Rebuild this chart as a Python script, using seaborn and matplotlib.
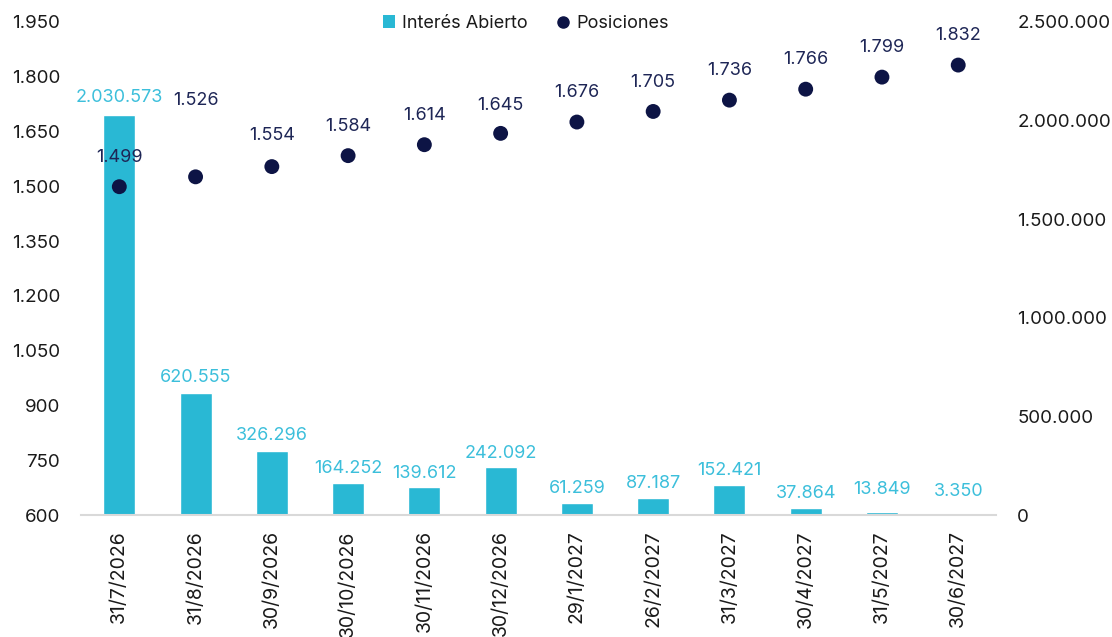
import matplotlib
matplotlib.use("Agg")
import matplotlib.pyplot as plt
from matplotlib.lines import Line2D
from matplotlib.patches import Patch
import seaborn as sns
import pandas as pd

fechas = ["31/7/2026", "31/8/2026", "30/9/2026", "30/10/2026", "30/11/2026", "30/12/2026",
          "29/1/2027", "26/2/2027", "31/3/2027", "30/4/2027", "31/5/2027", "30/6/2027"]
interes_abierto = [2030573, 620555, 326296, 164252, 139612, 242092,
                   61259, 87187, 152421, 37864, 13849, 3350]
posiciones = [1499, 1526, 1554, 1584, 1614, 1645, 1676, 1705, 1736, 1766, 1799, 1832]
left_ticks = [600, 750, 900, 1050, 1200, 1350, 1500, 1650, 1800, 1950]
right_ticks = [0, 500000, 1000000, 1500000, 2000000, 2500000]

BAR = "#29B8D4"
BARLBL = "#3CBFDB"
DOT = "#0D1445"
DOTLBL = "#1E2656"
TXT = "#1A1A1A"

def fmt(v):
    return f"{v:,.0f}".replace(",", ".")

sns.set_theme(style="white")
plt.rcParams["font.family"] = ["Inter", "DejaVu Sans"]

df = pd.DataFrame({"fecha": fechas, "oi": interes_abierto, "pos": posiciones})

fig = plt.figure(figsize=(11.12, 6.37), dpi=100)
ax_bar = fig.add_axes([0.073, 0.1915, 0.823, 0.774])
ax_dot = ax_bar.twinx()

sns.barplot(data=df, x="fecha", y="oi", ax=ax_bar, color=BAR, width=0.42,
            saturation=1, order=fechas)
ax_bar.set_ylim(0, 2500000)
ax_bar.set_xlim(-0.5, len(fechas) - 0.5)
ax_bar.yaxis.tick_right()
ax_bar.yaxis.set_label_position("right")
ax_bar.set_yticks(right_ticks)
ax_bar.set_yticklabels([fmt(v) for v in right_ticks])

sns.scatterplot(data=df, x="fecha", y="pos", ax=ax_dot, color=DOT, s=115,
                edgecolor="none", zorder=5)
ax_dot.set_ylim(600, 1950)
ax_dot.yaxis.tick_left()
ax_dot.yaxis.set_label_position("left")
ax_dot.set_yticks(left_ticks)
ax_dot.set_yticklabels([fmt(v) for v in left_ticks])

ax_dot.set_zorder(ax_bar.get_zorder() + 1)
ax_dot.patch.set_visible(False)

bar_off = [6, 5, 5, 4, 4, 4, 4, 4, 4, 4, 10, 10]
for i, v in enumerate(interes_abierto):
    ax_bar.annotate(fmt(v), (i, v), xytext=(0, bar_off[i]), textcoords="offset points",
                    ha="center", va="bottom", color=BARLBL, fontsize=13)
dot_off = [15, 49, 16, 15, 15, 14, 15, 15, 15, 15, 15, 15]
for i, v in enumerate(posiciones):
    ax_dot.annotate(fmt(v), (i, v), xytext=(0, dot_off[i]), textcoords="offset points",
                    ha="center", va="bottom", color=DOTLBL, fontsize=13)

for a in (ax_bar, ax_dot):
    a.set_xlabel("")
    a.set_ylabel("")
    for s in ("top", "left", "right", "bottom"):
        a.spines[s].set_visible(False)
    a.tick_params(axis="both", length=0, labelsize=13.5, labelcolor=TXT)
    a.grid(False)

ax_bar.spines["bottom"].set_visible(True)
ax_bar.spines["bottom"].set_color("#D9D9D9")
ax_bar.spines["bottom"].set_linewidth(1.5)
ax_bar.set_xticks(range(len(fechas)))
ax_bar.set_xticklabels(fechas, rotation=90, fontsize=14, color=TXT)
ax_bar.tick_params(axis="x", pad=11)
ax_bar.tick_params(axis="y", pad=15)
ax_dot.tick_params(axis="y", pad=15)

handles = [Patch(facecolor=BAR, edgecolor="none", label="Interés Abierto"),
           Line2D([], [], marker="o", linestyle="none", color=DOT, markersize=8,
                  label="Posiciones")]
fig.legend(handles=handles, loc="center", bbox_to_anchor=(0.473, 0.963), ncol=2,
           frameon=False, fontsize=13, handlelength=0.7, handletextpad=0.4,
           columnspacing=1.6, labelcolor=TXT)

fig.savefig("out.png", dpi=100)
